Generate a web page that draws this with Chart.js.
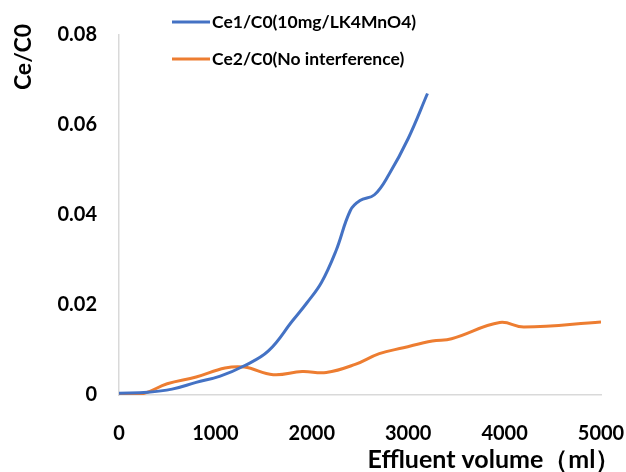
<!DOCTYPE html>
<html>
<head>
<meta charset="utf-8">
<script src="https://cdn.jsdelivr.net/npm/chart.js@4.4.1/dist/chart.umd.min.js"></script>
<style>
  html, body { margin: 0; padding: 0; background: #fff; }
  #wrap { width: 626px; height: 472px; }
</style>
</head>
<body>
<div id="wrap"><canvas id="effluentChart" width="626" height="472"></canvas></div>
<script>
// values
const blueVolume = [0, 300, 550, 800, 1050, 1300, 1550, 1800, 1950, 2100, 2250, 2400, 2500, 2650, 2800, 3000, 3200];
const blueRatio = [0.0004, 0.0006, 0.0013, 0.0028, 0.0042, 0.0065, 0.0098, 0.0165, 0.0205, 0.025, 0.032, 0.041, 0.0432, 0.0445, 0.049, 0.057, 0.067];

const orangeVolume = [0, 250, 500, 800, 1100, 1300, 1600, 1900, 2150, 2450, 2700, 2950, 3250, 3450, 3950, 4200, 5000];
const orangeRatio = [0, 0.0003, 0.0025, 0.004, 0.006, 0.0062, 0.0045, 0.0052, 0.005, 0.0068, 0.0092, 0.0105, 0.012, 0.0125, 0.0161, 0.0151, 0.0162];

const seriesLabels = ['Ce1/C0(10mg/LK4MnO4)', 'Ce2/C0(No interference)'];
const xTicks = [0, 1000, 2000, 3000, 4000, 5000];
const yTicks = [0, 0.02, 0.04, 0.06, 0.08];
const xTitle = 'Effluent volume（ml）';
const yTitle = 'Ce/C0';

const FONT = "Lato, 'Noto Sans', sans-serif";

const toPoints = (xs, ys) => xs.map((x, i) => ({ x: x, y: ys[i] }));

// legend + axis titles placed like the Excel original
const decorations = {
    id: 'decorations',
    afterDraw(chart) {
        const ctx = chart.ctx;
        ctx.save();
        ctx.fillStyle = '#000';
        ctx.font = 'bold 17.5px ' + FONT;
        ctx.textBaseline = 'middle';
        chart.data.datasets.forEach((ds, i) => {
            const y = 22 + i * 37;
            ctx.strokeStyle = ds.borderColor;
            ctx.lineWidth = 3;
            ctx.beginPath();
            ctx.moveTo(172, y);
            ctx.lineTo(210, y);
            ctx.stroke();
            ctx.fillText(ds.label, 212, y);
        });

        ctx.font = 'bold 25px ' + FONT;
        ctx.textAlign = 'center';
        ctx.fillText(xTitle, 494, 460);

        ctx.font = 'bold 23px ' + FONT;
        ctx.translate(24, 57);
        ctx.rotate(-Math.PI / 2);
        ctx.fillText(yTitle, 0, 0);
        ctx.restore();
    }
};

new Chart(document.getElementById('effluentChart').getContext('2d'), {
    type: 'line',
    data: {
        datasets: [
            {
                label: seriesLabels[0],
                data: toPoints(blueVolume, blueRatio),
                borderColor: '#4472C4',
                borderWidth: 3,
                pointRadius: 0,
                tension: 0.4,
                fill: false,
            },
            {
                label: seriesLabels[1],
                data: toPoints(orangeVolume, orangeRatio),
                borderColor: '#ED7D31',
                borderWidth: 3,
                pointRadius: 0,
                tension: 0.4,
                fill: false,
            },
        ],
    },
    options: {
        responsive: false,
        animation: false,
        layout: { padding: { top: 35, left: 0, right: 0, bottom: 0 } },
        plugins: {
            legend: { display: false },
            tooltip: { enabled: false },
        },
        scales: {
            x: {
                type: 'linear',
                min: 0,
                max: 5000,
                afterBuildTicks: (scale) => { scale.ticks = xTicks.map(v => ({ value: v })); },
                afterFit: (scale) => {
                    scale.height = 77;
                    scale.paddingLeft = 0;
                    scale.paddingRight = 25;
                },
                grid: { display: false, drawTicks: false },
                border: { display: true, color: '#d9d9d9', width: 1.5 },
                ticks: {
                    color: '#000',
                    padding: 27,
                    maxRotation: 0,
                    callback: (v) => String(v),
                    font: { family: FONT, size: 20, weight: 'bold' },
                },
            },
            y: {
                min: 0,
                max: 0.08,
                afterBuildTicks: (scale) => { scale.ticks = yTicks.map(v => ({ value: v })); },
                afterFit: (scale) => { scale.width = 119; },
                grid: { display: false, drawTicks: false },
                border: { display: true, color: '#d9d9d9', width: 1.5 },
                ticks: {
                    color: '#000',
                    padding: 22,
                    callback: (v) => (v === 0 ? '0' : v.toFixed(2)),
                    font: { family: FONT, size: 20, weight: 'bold' },
                },
            },
        },
    },
    plugins: [decorations],
});
</script>
</body>
</html>
